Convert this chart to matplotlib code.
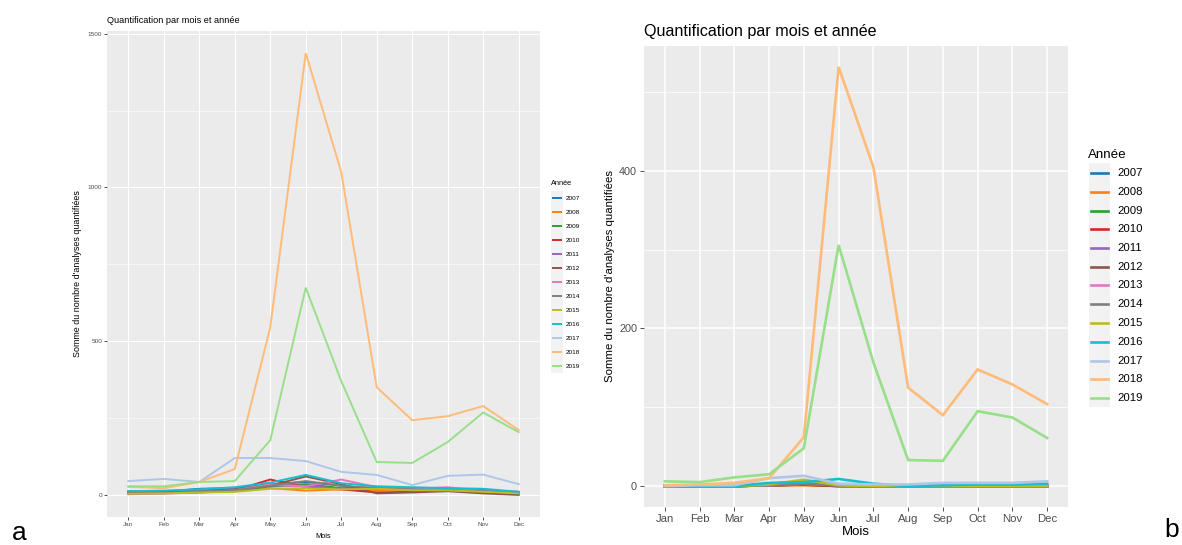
import matplotlib
matplotlib.use("Agg")
import matplotlib.pyplot as plt
from matplotlib.lines import Line2D
from matplotlib.patches import Rectangle
import numpy as np

plt.rcParams['font.family'] = ['Liberation Sans', 'DejaVu Sans']

months = ["Jan", "Feb", "Mar", "Apr", "May", "Jun", "Jul", "Aug", "Sep", "Oct", "Nov", "Dec"]
years = ["2007", "2008", "2009", "2010", "2011", "2012", "2013",
         "2014", "2015", "2016", "2017", "2018", "2019"]
colors = ["#1f77b4", "#ff7f0e", "#2ca02c", "#d62728", "#9467bd", "#8c564b", "#e377c2",
          "#7f7f7f", "#bcbd22", "#17becf", "#aec7e8", "#ffbb78", "#98df8a"]

# Panel a values
a_2007 = [12, 10, 20, 22, 35, 42, 30, 15, 18, 20, 15, 8]
a_2008 = [8, 8, 10, 12, 22, 14, 18, 15, 15, 18, 12, 5]
a_2009 = [5, 6, 8, 12, 28, 35, 22, 25, 18, 15, 10, 5]
a_2010 = [8, 8, 12, 15, 50, 25, 18, 8, 10, 15, 10, 5]
a_2011 = [10, 10, 18, 20, 30, 30, 20, 20, 22, 20, 15, 10]
a_2012 = [6, 8, 15, 18, 30, 60, 35, 5, 8, 12, 5, 0]
a_2013 = [2, 4, 8, 15, 35, 28, 50, 25, 20, 25, 12, 10]
a_2014 = [5, 6, 12, 15, 30, 45, 30, 22, 18, 15, 12, 5]
a_2015 = [4, 5, 8, 10, 20, 22, 18, 20, 15, 15, 10, 5]
a_2016 = [12, 14, 18, 25, 40, 65, 38, 28, 25, 22, 20, 10]
a_2017 = [45, 52, 42, 120, 120, 110, 75, 65, 32, 62, 66, 35]
a_2018 = [26, 22, 42, 84, 545, 1437, 1050, 350, 243, 256, 289, 211]
a_2019 = [28, 28, 42, 45, 178, 674, 370, 107, 104, 172, 268, 204]

# Panel b values
b_2007 = [0, 0, 0, 1, 2, 1, 0, 0, 0, 0, 0, 0]
b_2008 = [0, 0, 0, 1, 1, 0, 0, 0, 0, 0, 0, 0]
b_2009 = [0, 0, 0, 1, 2, 1, 0, 0, 0, 0, 0, 0]
b_2010 = [0, 0, 0, 1, 2, 0, 0, 0, 0, 0, 0, 0]
b_2011 = [0, 0, 0, 2, 3, 1, 0, 0, 0, 0, 0, 0]
b_2012 = [0, 0, 0, 1, 2, 0, 0, 0, 0, 0, 0, 0]
b_2013 = [0, 0, 0, 1, 3, 1, 0, 0, 0, 0, 0, 0]
b_2014 = [0, 0, 0, 1, 3, 1, 0, 0, 0, 0, 0, 0]
b_2015 = [0, 0, 0, 2, 8, 1, 0, 0, 0, 0, 0, 0]
b_2016 = [0, 0, 0, 4, 5, 9, 3, 0, 1, 2, 2, 3]
b_2017 = [0, 1, 1, 10, 13, 3, 2, 2, 4, 4, 4, 6]
b_2018 = [1, 2, 4, 10, 62, 532, 405, 125, 90, 148, 129, 104]
b_2019 = [6, 5, 11, 15, 48, 306, 157, 33, 32, 95, 87, 61]

data_a = [a_2007, a_2008, a_2009, a_2010, a_2011, a_2012, a_2013,
          a_2014, a_2015, a_2016, a_2017, a_2018, a_2019]
data_b = [b_2007, b_2008, b_2009, b_2010, b_2011, b_2012, b_2013,
          b_2014, b_2015, b_2016, b_2017, b_2018, b_2019]

W, H = 1182, 545
fig = plt.figure(figsize=(W / 100, H / 100), dpi=100)
fig.patch.set_facecolor("white")


def px_rect(l, t, r, b):
    return [l / W, 1 - b / H, (r - l) / W, (b - t) / H]


def style_panel(ax, data, major, minor, s):
    ax.set_facecolor("#EBEBEB")
    x = np.arange(len(months))
    for vals, c in zip(data, colors):
        ax.plot(x, vals, color=c, lw=s["lw"], solid_joinstyle="miter", zorder=3)
    allv = np.concatenate([np.asarray(v, float) for v in data])
    lo, hi = min(allv.min(), 0), allv.max()
    pad = (hi - lo) * 0.05
    ax.set_ylim(lo - pad, hi + pad)
    ax.set_xlim(-0.6, len(months) - 1 + 0.6)
    ax.set_xticks(x)
    ax.set_xticklabels(months)
    ax.set_yticks(major)
    ax.set_yticks(minor, minor=True)
    for v in major:
        ax.axhline(v, color="white", lw=s["gmaj"], zorder=1)
    for v in minor:
        ax.axhline(v, color="white", lw=s["gmin"], zorder=1)
    for xi in x:
        ax.axvline(xi, color="white", lw=s["gmaj"], zorder=1)
    for sp in ax.spines.values():
        sp.set_visible(False)
    ax.tick_params(axis="both", which="major", length=s["tl"], width=0.6, color="#333333",
                   labelcolor="#4D4D4D", pad=s["pad"])
    ax.tick_params(axis="x", labelsize=s["xts"])
    ax.tick_params(axis="y", labelsize=s["yts"])
    ax.tick_params(axis="y", which="minor", length=0)


# ---------- Panel a ----------
axa = fig.add_axes(px_rect(107, 31, 540, 517))
style_panel(axa, data_a, [0, 500, 1000, 1500], [250, 750, 1250],
            dict(lw=1.4, gmaj=0.8, gmin=0.4, tl=2, pad=1.5, xts=4.6, yts=4.6))
axa.set_title("Quantification par mois et année", loc="left", fontsize=6.6, pad=6)
axa.set_xlabel("Mois", fontsize=5.3)
axa.set_ylabel("Somme du nombre d'analyses quantifiées", fontsize=6.4)
axa.xaxis.set_label_coords(0.5, (517 - 536) / 486)
axa.xaxis.label.set_va("center")
axa.yaxis.set_label_coords((78 - 107) / 433, 0.5)
axa.yaxis.label.set_va("center")

# ---------- Panel b ----------
axb = fig.add_axes(px_rect(644, 46, 1068, 507))
style_panel(axb, data_b, [0, 200, 400], [100, 300, 500],
            dict(lw=1.9, gmaj=1.1, gmin=0.55, tl=3, pad=2, xts=8.2, yts=7.8))
axb.set_title("Quantification par mois et année", loc="left", fontsize=11.6, pad=7)
axb.set_xlabel("Mois", fontsize=9.5)
axb.set_ylabel("Somme du nombre d'analyses quantifiées", fontsize=8.2)
axb.xaxis.set_label_coords(0.5, (507 - 532) / 461)
axb.xaxis.label.set_va("center")
axb.yaxis.set_label_coords((610 - 644) / 424, 0.5)
axb.yaxis.label.set_va("center")


def draw_legend(title_xy, title_fs, box, key_x0, key_x1, y0, dy, lab_x, lab_fs, klw):
    fig.text(title_xy[0] / W, 1 - title_xy[1] / H, "Année", fontsize=title_fs,
             ha="left", va="center", color="black")
    bl, bt, br, bb = box
    fig.add_artist(Rectangle((bl / W, 1 - bb / H), (br - bl) / W, (bb - bt) / H,
                             transform=fig.transFigure, facecolor="#F2F2F2",
                             edgecolor="none", zorder=0))
    for i, (yr, c) in enumerate(zip(years, colors)):
        y = y0 + i * dy
        fig.add_artist(Line2D([key_x0 / W, key_x1 / W], [1 - y / H, 1 - y / H],
                              transform=fig.transFigure, color=c, lw=klw))
        fig.text(lab_x / W, 1 - y / H, yr, fontsize=lab_fs, ha="left", va="center",
                 color="black")


draw_legend((551, 183), 5.3, (551, 191, 563, 373), 553, 561, 198, 14.0, 566, 4.6, 1.4)
draw_legend((1088, 155), 9.6, (1089, 163, 1110, 407), 1091, 1108, 173, 18.75, 1117, 8.2, 1.9)

fig.text(12 / W, 1 - 533 / H, "a", fontsize=19, ha="left", va="center")
fig.text(1164 / W, 1 - 530 / H, "b", fontsize=19, ha="left", va="center")

fig.savefig("out.png", dpi=100)
